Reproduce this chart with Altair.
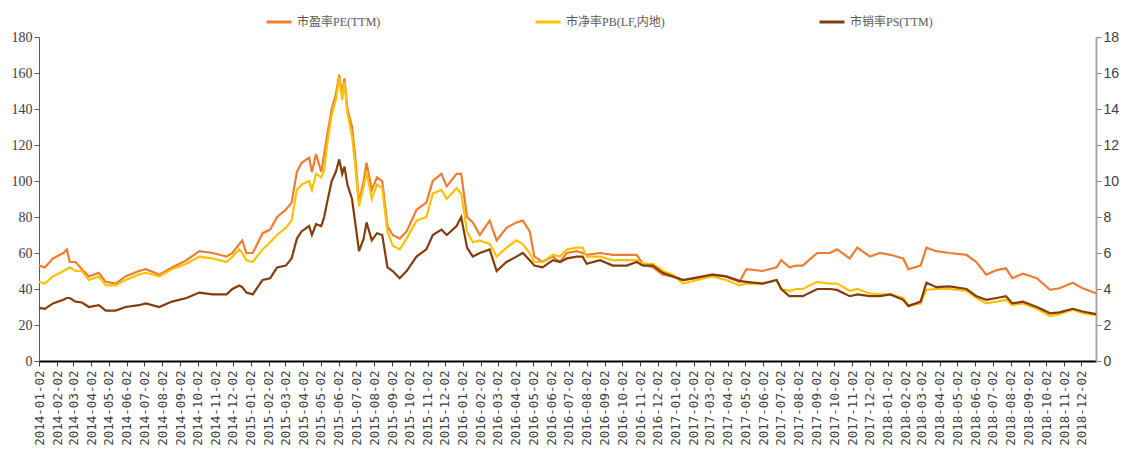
import altair as alt
import pandas as pd

dates = [
    "2014-01-02", "2014-01-12", "2014-01-26", "2014-02-13", "2014-02-19", "2014-02-24",
    "2014-03-06", "2014-03-17", "2014-03-29", "2014-04-15", "2014-04-27", "2014-05-14",
    "2014-05-31", "2014-06-23", "2014-07-05", "2014-07-28", "2014-08-19", "2014-09-13",
    "2014-10-05", "2014-10-28", "2014-11-21", "2014-12-01", "2014-12-13", "2014-12-18",
    "2014-12-25", "2015-01-05", "2015-01-22", "2015-02-04", "2015-02-16", "2015-03-03",
    "2015-03-13", "2015-03-22", "2015-03-30", "2015-04-12", "2015-04-17", "2015-04-24",
    "2015-05-03", "2015-05-08", "2015-05-13", "2015-05-21", "2015-05-28", "2015-06-03",
    "2015-06-08", "2015-06-12", "2015-06-17", "2015-06-25", "2015-06-30", "2015-07-07",
    "2015-07-15", "2015-07-20", "2015-07-29", "2015-08-07", "2015-08-16", "2015-08-25",
    "2015-09-03", "2015-09-15", "2015-09-27", "2015-10-14", "2015-10-31", "2015-11-11",
    "2015-11-26", "2015-12-05", "2015-12-22", "2015-12-30", "2016-01-09", "2016-01-19",
    "2016-01-31", "2016-02-17", "2016-02-29", "2016-03-17", "2016-04-03", "2016-04-14",
    "2016-04-26", "2016-05-04", "2016-05-18", "2016-06-05", "2016-06-17", "2016-06-29",
    "2016-07-16", "2016-07-26", "2016-08-02", "2016-08-25", "2016-09-16", "2016-10-10",
    "2016-10-27", "2016-11-07", "2016-11-24", "2016-12-11", "2016-12-28", "2017-01-15",
    "2017-02-09", "2017-03-06", "2017-03-30", "2017-04-22", "2017-05-04", "2017-06-01",
    "2017-06-25", "2017-07-03", "2017-07-17", "2017-07-29", "2017-08-09", "2017-09-03",
    "2017-09-25", "2017-10-07", "2017-10-29", "2017-11-11", "2017-12-03", "2017-12-20",
    "2018-01-07", "2018-01-29", "2018-02-07", "2018-02-28", "2018-03-10", "2018-03-27",
    "2018-04-19", "2018-05-18", "2018-06-04", "2018-06-21", "2018-07-09", "2018-07-25",
    "2018-08-05", "2018-08-23", "2018-09-16", "2018-10-09", "2018-10-25", "2018-11-17",
    "2018-12-04", "2018-12-27",
]

pe = [
    53, 52, 57, 60, 62, 55, 55, 51, 47, 49, 44, 43,
    47, 50, 51, 48, 52, 56, 61, 60, 58, 60, 65, 67,
    60, 60, 71, 73, 80, 84, 88, 105, 110, 113, 105, 115,
    105, 115, 125, 140, 148, 159, 148, 157, 140, 130, 115, 88,
    100, 110, 95, 102, 100, 75, 70, 68, 72, 84, 88, 100,
    104, 97, 104, 104, 80, 77, 70, 78, 67, 74, 77, 78,
    72, 58, 55, 58, 55, 60, 61, 60, 59, 60, 59, 59,
    59, 54, 52, 48, 47, 45, 46, 48, 47, 44, 51, 50,
    52, 56, 52, 53, 53, 60, 60, 62, 57, 63, 58, 60,
    59, 57, 51, 53, 63, 61, 60, 59, 55, 48, 50.5, 51.5,
    46, 48.5, 46, 39.5, 40.4, 43.5, 40.4, 37.6,
]

pb = [
    4.4, 4.3, 4.7, 5.0, 5.1, 5.2, 5.0, 5.0, 4.5, 4.7, 4.2, 4.2,
    4.5, 4.8, 4.9, 4.7, 5.1, 5.4, 5.8, 5.7, 5.5, 5.8, 6.2, 6.0,
    5.6, 5.5, 6.2, 6.6, 7.0, 7.4, 7.8, 9.5, 9.8, 10.0, 9.5, 10.4,
    10.2, 10.6, 12.0, 13.7, 14.5, 15.8, 14.5, 15.5, 13.8, 12.5, 11.0, 8.6,
    9.7, 10.5, 9.0, 9.8, 9.6, 7.2, 6.4, 6.2, 6.8, 7.8, 8.0, 9.3,
    9.5, 9.0, 9.6, 9.3, 7.2, 6.6, 6.7, 6.5, 5.8, 6.3, 6.7, 6.5,
    6.0, 5.5, 5.5, 5.9, 5.8, 6.2, 6.3, 6.3, 5.8, 5.8, 5.6, 5.6,
    5.6, 5.4, 5.4, 5.0, 4.8, 4.3, 4.5, 4.7, 4.5, 4.2, 4.3, 4.3,
    4.5, 4.0, 3.9, 4.0, 4.0, 4.4, 4.3, 4.3, 3.9, 4.0, 3.75, 3.7,
    3.7, 3.5, 3.1, 3.2, 3.95, 4.0, 4.0, 3.9, 3.5, 3.2, 3.3, 3.4,
    3.1, 3.2, 2.9, 2.5, 2.6, 2.85, 2.65, 2.55,
]

ps = [
    2.95, 2.9, 3.2, 3.4, 3.5, 3.5, 3.3, 3.25, 3.0, 3.1, 2.8, 2.8,
    3.0, 3.1, 3.2, 3.0, 3.3, 3.5, 3.8, 3.7, 3.7, 4.0, 4.2, 4.1,
    3.8, 3.7, 4.5, 4.6, 5.2, 5.3, 5.7, 6.8, 7.2, 7.5, 7.0, 7.6,
    7.5, 8.0, 8.8, 10.0, 10.5, 11.2, 10.4, 10.8, 9.8, 9.0, 7.8, 6.1,
    6.8, 7.7, 6.7, 7.1, 7.0, 5.2, 5.0, 4.6, 5.0, 5.8, 6.2, 7.0,
    7.3, 7.0, 7.5, 8.0, 6.3, 5.8, 6.0, 6.2, 5.0, 5.5, 5.8, 6.0,
    5.6, 5.3, 5.2, 5.6, 5.5, 5.7, 5.8, 5.8, 5.4, 5.6, 5.3, 5.3,
    5.5, 5.3, 5.3, 4.9, 4.7, 4.5, 4.65, 4.8, 4.7, 4.45, 4.4, 4.3,
    4.5, 4.0, 3.6, 3.6, 3.6, 4.0, 4.0, 3.95, 3.6, 3.7, 3.6, 3.6,
    3.7, 3.4, 3.05, 3.3, 4.35, 4.1, 4.15, 4.0, 3.6, 3.4, 3.5, 3.6,
    3.2, 3.3, 3.0, 2.65, 2.7, 2.9, 2.75, 2.6,
]

series_names = ["市盈率PE(TTM)", "市净率PB(LF,内地)", "市销率PS(TTM)"]
series_colors = ["#ED7D31", "#FFC000", "#843C0C"]
month_ticks = [(y, m) for y in range(2014, 2019) for m in range(1, 13)]
left_ticks = list(range(0, 181, 20))
right_ticks = list(range(0, 19, 2))

df = pd.DataFrame({"date": dates, "PE": pe, "PB": pb, "PS": ps})

x_enc = alt.X(
    "date:T",
    title=None,
    scale=alt.Scale(
        type="utc",
        domain=[alt.DateTime(year=2014, month=1, date=2, utc=True),
                alt.DateTime(year=2018, month=12, date=27, utc=True)],
    ),
    axis=alt.Axis(
        values=[alt.DateTime(year=y, month=m, date=2, utc=True) for y, m in month_ticks],
        format="%Y-%m-%d",
        labelAngle=-90,
        labelFont="DejaVu Sans Mono",
        labelFontSize=12.5,
        labelColor="#404040",
        labelPadding=4,
        domainColor="#000000",
        domainWidth=2,
        tickColor="#404040",
        tickSize=5,
        labelOverlap=False,
        grid=False,
    ),
)

color_scale = alt.Scale(domain=series_names, range=series_colors)
legend = alt.Legend(
    title=None,
    orient="none",
    legendX=226,
    legendY=-29,
    direction="horizontal",
    symbolType="stroke",
    symbolSize=625,
    symbolStrokeWidth=3,
    labelFont="Liberation Serif, Noto Sans CJK SC",
    labelFontSize=12,
    labelColor="#595959",
    labelOffset=4,
    columnPadding=148,
)

base = alt.Chart(df)

pe_line = base.mark_line(strokeWidth=2.2).encode(
    x=x_enc,
    y=alt.Y(
        "PE:Q",
        title=None,
        scale=alt.Scale(domain=[0, 180], nice=False),
        axis=alt.Axis(
            orient="left",
            values=left_ticks,
            labelFont="Liberation Serif",
            labelFontSize=14,
            labelColor="#404040",
            domainColor="#595959",
            tickColor="#595959",
            tickSize=5,
            grid=False,
        ),
    ),
    color=alt.Color("s:N", scale=color_scale, legend=legend),
).transform_calculate(s="'" + series_names[0] + "'")

pb_line = base.mark_line(strokeWidth=2.2).encode(
    x=x_enc,
    y=alt.Y(
        "PB:Q",
        title=None,
        scale=alt.Scale(domain=[0, 18], nice=False),
        axis=alt.Axis(
            orient="right",
            values=right_ticks,
            labelFont="Liberation Sans Narrow, Liberation Sans",
            labelFontSize=14,
            labelColor="#404040",
            domainColor="#A6A6A6",
            domainWidth=2,
            tickColor="#7F7F7F",
            tickSize=5,
            grid=False,
        ),
    ),
    color=alt.Color("s:N", scale=color_scale, legend=legend),
).transform_calculate(s="'" + series_names[1] + "'")

ps_line = base.mark_line(strokeWidth=2.2).encode(
    x=x_enc,
    y=alt.Y("PS:Q", title=None, scale=alt.Scale(domain=[0, 18], nice=False), axis=None),
    color=alt.Color("s:N", scale=color_scale, legend=legend),
).transform_calculate(s="'" + series_names[2] + "'")

chart = (
    alt.layer(pe_line, pb_line, ps_line)
    .resolve_scale(y="independent")
    .properties(
        width=1057,
        height=324,
        padding={"left": 39, "top": 37, "right": 30, "bottom": 100},
        autosize=alt.AutoSizeParams(type="none"),
        background="white",
    )
    .configure_view(stroke=None)
)

chart.save("out.html", embed_options={"renderer": "svg", "actions": False})
